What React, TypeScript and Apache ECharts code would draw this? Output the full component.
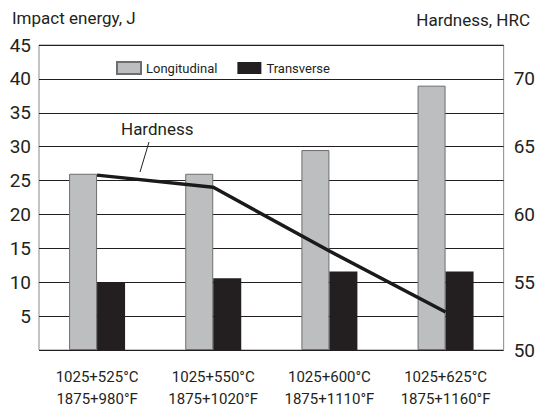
import React, { useEffect, useRef } from "react";
import * as echarts from "echarts";

const categories = ["1025+525°C\n1875+980°F", "1025+550°C\n1875+1020°F", "1025+600°C\n1875+1110°F", "1025+625°C\n1875+1160°F"];
const longitudinal = [26.0, 26.0, 29.5, 39.0];
const transverse = [10.0, 10.6, 11.6, 11.6];
const hardness = [62.9, 62.0, 57.3, 52.8];
const leftTicks = { min: 0, max: 45, interval: 5 };
const rightTicks = { min: 50, max: 72.5, interval: 5 };

const FONT = "Roboto";

export default function App() {
  const ref = useRef<HTMLDivElement>(null);
  useEffect(() => {
    if (!ref.current) return;
    const chart = echarts.init(ref.current, null, { renderer: "svg" });
    chart.setOption({
      animation: false,
      backgroundColor: "#ffffff",
      textStyle: { fontFamily: FONT, color: "#231f20" },
      grid: {
        left: 39,
        right: 31,
        top: 45,
        bottom: 56,
        show: true,
        borderColor: "#8a8a8a",
        borderWidth: 1,
        backgroundColor: "transparent",
      },
      legend: {
        data: ["Longitudinal", "Transverse"],
        left: 111,
        top: 56,
        itemWidth: 24,
        itemHeight: 12,
        itemGap: 20,
        icon: "rect",
        textStyle: { fontFamily: FONT, fontSize: 13, color: "#231f20" },
      },
      xAxis: {
        type: "category",
        data: categories,
        axisLine: { show: false },
        axisTick: { show: false },
        axisLabel: {
          interval: 0,
          margin: 16,
          fontSize: 15,
          lineHeight: 22,
          color: "#231f20",
          fontFamily: FONT,
        },
      },
      yAxis: [
        {
          type: "value",
          min: leftTicks.min,
          max: leftTicks.max,
          interval: leftTicks.interval,
          axisLine: { show: false },
          axisTick: { show: false },
          splitLine: { show: true, lineStyle: { color: "#231f20", width: 1 } },
          axisLabel: {
            margin: 8,
            fontSize: 19,
            color: "#231f20",
            fontFamily: FONT,
            formatter: (v: number) => (v === 0 ? "" : String(v)),
          },
        },
        {
          type: "value",
          min: rightTicks.min,
          max: rightTicks.max,
          interval: rightTicks.interval,
          axisLine: { show: false },
          axisTick: { show: false },
          splitLine: { show: false },
          axisLabel: {
            margin: 10,
            fontSize: 19,
            color: "#231f20",
            fontFamily: FONT,
            formatter: (v: number) => (v % 5 === 0 ? String(v) : ""),
          },
        },
      ],
      series: [
        {
          name: "Longitudinal",
          type: "bar",
          data: longitudinal,
          barWidth: 28,
          barGap: "0%",
          itemStyle: { color: "#bdbec0", borderColor: "#6d6e70", borderWidth: 1 },
        },
        {
          name: "Transverse",
          type: "bar",
          data: transverse,
          barWidth: 28,
          barGap: "0%",
          itemStyle: { color: "#231f20" },
        },
        {
          name: "Hardness",
          type: "line",
          yAxisIndex: 1,
          data: hardness,
          symbol: "none",
          lineStyle: { color: "#1a1a1a", width: 3.5 },
          z: 5,
        },
      ],
      graphic: [
        {
          type: "text",
          left: 12,
          top: 9,
          style: { text: "Impact energy, J", fontSize: 17, fontFamily: FONT, fill: "#231f20" },
        },
        {
          type: "text",
          right: 8,
          top: 11,
          style: { text: "Hardness, HRC", fontSize: 17, fontFamily: FONT, fill: "#231f20" },
        },
        {
          type: "text",
          left: 121,
          top: 120,
          style: { text: "Hardness", fontSize: 17, fontFamily: FONT, fill: "#231f20" },
        },
        {
          type: "line",
          shape: { x1: 149, y1: 142, x2: 140, y2: 172 },
          style: { stroke: "#231f20", lineWidth: 1 },
        },
      ],
    });
    return () => chart.dispose();
  }, []);
  return <div ref={ref} style={{ width: 538, height: 410, position: "absolute", left: 0, top: 0 }} />;
}
